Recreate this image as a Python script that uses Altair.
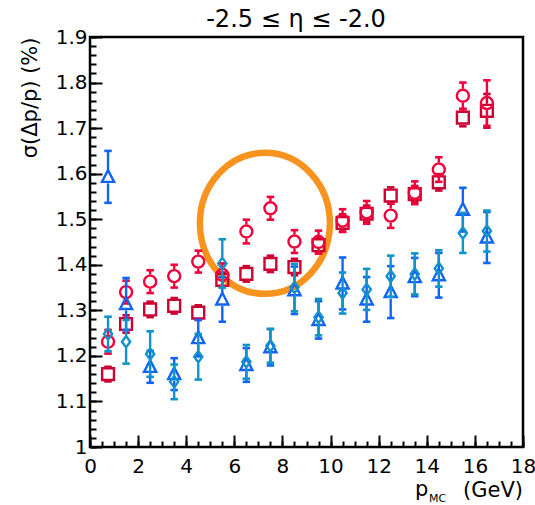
import altair as alt
import pandas as pd

FONT = "DejaVu Sans"

p_mc = [0.75, 1.5, 2.5, 3.5, 4.5, 5.5, 6.5, 7.5, 8.5, 9.5, 10.5, 11.5, 12.5, 13.5, 14.5, 15.5, 16.5]

circ_sigma = [1.231, 1.340, 1.363, 1.375, 1.407, 1.378, 1.473, 1.524, 1.451, 1.450, 1.497, 1.515, 1.508, 1.558, 1.609, 1.771, 1.755]
circ_err = [0.026, 0.025, 0.025, 0.025, 0.024, 0.025, 0.026, 0.025, 0.025, 0.025, 0.025, 0.025, 0.027, 0.025, 0.027, 0.029, 0.050]

sq_sigma = [1.160, 1.270, 1.302, 1.310, 1.295, 1.367, 1.380, 1.402, 1.395, 1.443, 1.492, 1.512, 1.552, 1.555, 1.581, 1.723, 1.738]
sq_err = [0.016, 0.019, 0.017, 0.017, 0.016, 0.016, 0.017, 0.018, 0.018, 0.018, 0.019, 0.018, 0.018, 0.018, 0.018, 0.019, 0.037]

tri_sigma = [1.593, 1.314, 1.176, 1.160, 1.239, 1.324, 1.180, 1.219, 1.344, 1.279, 1.359, 1.324, 1.340, 1.373, 1.377, 1.521, 1.460]
tri_err = [0.057, 0.057, 0.035, 0.035, 0.040, 0.049, 0.037, 0.040, 0.052, 0.041, 0.057, 0.049, 0.057, 0.042, 0.049, 0.048, 0.056]

dia_sigma = [1.248, 1.231, 1.204, 1.143, 1.198, 1.403, 1.187, 1.222, 1.350, 1.285, 1.338, 1.346, 1.375, 1.380, 1.392, 1.470, 1.474]
dia_err = [0.038, 0.048, 0.050, 0.038, 0.050, 0.053, 0.037, 0.037, 0.052, 0.040, 0.045, 0.045, 0.045, 0.045, 0.040, 0.044, 0.045]

ring_center_p = [7.27]
ring_center_sigma = [1.491]

x_major = [0, 2, 4, 6, 8, 10, 12, 14, 16, 18]
x_minor = [i * 0.5 for i in range(37)]
y_major = [1.0, 1.1, 1.2, 1.3, 1.4, 1.5, 1.6, 1.7, 1.8, 1.9]
y_minor = [round(1.0 + i * 0.02, 2) for i in range(46)]

W, H = 433, 410

XS = alt.Scale(domain=[0, 18], nice=False, zero=False)
YS = alt.Scale(domain=[1.0, 1.9], nice=False, zero=False)


def frame(sig, err):
    return pd.DataFrame({
        "p": p_mc,
        "s": sig,
        "hi": [a + b for a, b in zip(sig, err)],
        "lo": [a - b for a, b in zip(sig, err)],
    })


CAP = "M-1,0L1,0"
TRI = "M0,-1L0.9,0.75L-0.9,0.75Z"
DIA = "M0,-1L0.72,0L0,1L-0.72,0Z"


def series(df, color, shape, size, gap):
    base = alt.Chart(df)
    xe = alt.X("p:Q", scale=XS, axis=None)
    up = base.mark_rule(color=color, strokeWidth=2.4, y2Offset=-gap).encode(
        x=xe, y=alt.Y("hi:Q", scale=YS, axis=None), y2="s:Q")
    lo = base.mark_rule(color=color, strokeWidth=2.4, y2Offset=gap).encode(
        x=xe, y=alt.Y("lo:Q", scale=YS, axis=None), y2="s:Q")
    cap_hi = base.mark_point(shape=CAP, size=56, color=color, strokeWidth=2.6,
                             filled=False, opacity=1).encode(
        x=xe, y=alt.Y("hi:Q", scale=YS, axis=None))
    cap_lo = base.mark_point(shape=CAP, size=56, color=color, strokeWidth=2.6,
                             filled=False, opacity=1).encode(
        x=xe, y=alt.Y("lo:Q", scale=YS, axis=None))
    mk = base.mark_point(shape=shape, size=size, color=color, strokeWidth=2.4,
                         filled=False, opacity=1).encode(
        x=xe, y=alt.Y("s:Q", scale=YS, axis=None))
    return [up, lo, cap_hi, cap_lo, mk]


k = 0.5523
a = 0.922
ELL = (f"M{a},0 C{a},{k} {a*k:.4f},1 0,1 C{-a*k:.4f},1 {-a},{k} {-a},0 "
       f"C{-a},{-k} {-a*k:.4f},-1 0,-1 C{a*k:.4f},-1 {a},{-k} {a},0 Z")

ring = alt.Chart(pd.DataFrame({"p": ring_center_p, "s": ring_center_sigma})).mark_point(
    shape=ELL, size=141 * 141, filled=False, stroke="#f7931e", strokeWidth=6.5, opacity=1
).encode(x=alt.X("p:Q", scale=XS, axis=None), y=alt.Y("s:Q", scale=YS, axis=None))

ax_df = pd.DataFrame({"p": p_mc, "s": circ_sigma})

label_axes = alt.Chart(ax_df).mark_point(opacity=0).encode(
    x=alt.X("p:Q", scale=XS, axis=alt.Axis(
        orient="bottom", values=x_major, ticks=False, tickSize=0, domain=False, grid=False,
        labelFont=FONT, labelFontSize=20, labelPadding=9, labelFlush=False,
        labelOverlap=False, labelColor="black", format="d", title=None)),
    y=alt.Y("s:Q", scale=YS, axis=alt.Axis(
        orient="left", values=y_major, ticks=False, tickSize=0, domain=False, grid=False,
        labelFont=FONT, labelFontSize=20, labelPadding=3, labelFlush=False,
        labelOverlap=False, labelColor="black", format=".1~f",
        title="σ(Δp/p) (%)", titleFont=FONT, titleFontSize=21, titleFontWeight="normal",
        titleColor="black", titleAngle=270, titleAlign="right", titleBaseline="alphabetic",
        titleX=-54, titleY=0)),
)


def tick_axes(xv, yv, size):
    return alt.Chart(ax_df).mark_point(opacity=0).encode(
        x=alt.X("p:Q", scale=XS, axis=alt.Axis(
            orient="top", offset=-H, values=xv, labels=False, domain=False, grid=False,
            ticks=True, tickSize=size, tickWidth=2, tickColor="black", title=None)),
        y=alt.Y("s:Q", scale=YS, axis=alt.Axis(
            orient="right", offset=-W, values=yv, labels=False, domain=False, grid=False,
            ticks=True, tickSize=size, tickWidth=2, tickColor="black", title=None)),
    )


one = pd.DataFrame({"k": [0]})


def txt(s, x, y, size, align):
    return alt.Chart(one).mark_text(
        text=s, font=FONT, fontSize=size, align=align, baseline="alphabetic", color="black"
    ).encode(x=alt.value(x), y=alt.value(y))


layers = [ring]
layers += series(frame(sq_sigma, sq_err), "#cc0033", "square", 140, 7.0)
layers += series(frame(circ_sigma, circ_err), "#f2003c", "circle", 144, 7.0)
layers += series(frame(tri_sigma, tri_err), "#1464f4", TRI, 180, 6.5)
layers += series(frame(dia_sigma, dia_err), "#1193c9", DIA, 130, 6.5)
layers += [
    label_axes,
    tick_axes(x_major, y_major, 12),
    tick_axes(x_minor, y_minor, 6),
    txt("-2.5 ≤ η ≤ -2.0", 206, -10, 24, "center"),
    txt("p", 325, 459, 21, "left"),
    txt("MC", 339, 465, 11, "left"),
    txt("(GeV)", 433, 460, 21, "right"),
]

chart = alt.layer(*layers).resolve_axis(x="independent", y="independent").properties(
    width=W, height=H,
    autosize=alt.AutoSizeParams(type="none"),
    padding={"left": 90, "top": 37, "right": 12, "bottom": 58},
).configure_view(stroke="black", strokeWidth=2.5)

chart.save("out.html", embed_options={"renderer": "svg", "actions": False})
